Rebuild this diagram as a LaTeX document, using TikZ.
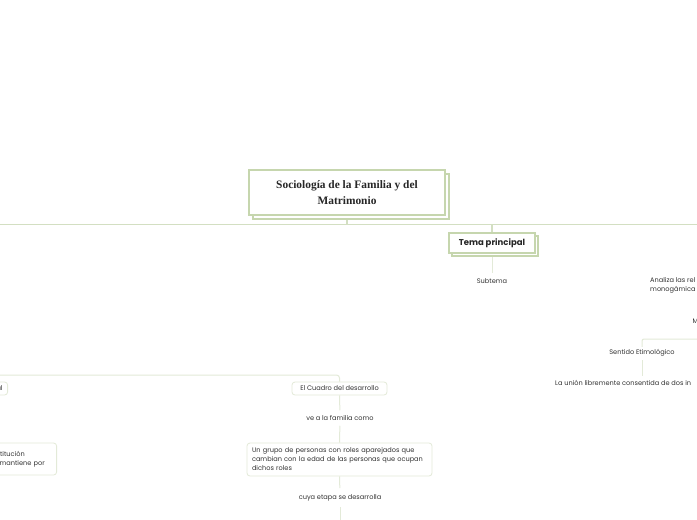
\documentclass[tikz,border=0pt]{standalone}
\usepackage{fontspec}
\setmainfont{Poppins}
\newfontfamily\titlefont{Liberation Serif}
\definecolor{titleline}{HTML}{C6D6AE}
\definecolor{busline}{HTML}{D3DFC2}
\definecolor{paleline}{HTML}{E3EAD8}
\definecolor{txt}{HTML}{333333}
\begin{document}
\begin{tikzpicture}[x=1pt,y=-1pt,
  titlebox/.style={draw=titleline, line width=1.6pt, fill=white, inner sep=0pt},
  temabox/.style={draw=titleline, line width=1.3pt, fill=white, inner sep=0pt},
  subbox/.style={draw=paleline, line width=0.8pt, rounded corners=3pt, fill=white, inner sep=0pt},
  lbl/.style={inner sep=0pt, text=txt, font=\fontsize{6.6}{9}\selectfont},
  bus/.style={draw=busline, line width=1.2pt},
  pale/.style={draw=paleline, line width=1pt}]
\useasboundingbox (0,0) rectangle (697,520);
\fill[white] (0,0) rectangle (697,520);

% buses
\coordinate (busL) at (0,224.5);
\coordinate (busR) at (697,224.5);
\draw[bus] (busL) -- (busR);

% title
\draw[titlebox] (253,174) rectangle (449,219);
\node[titlebox, minimum width=196pt, minimum height=45pt, align=center,
  font=\titlefont\bfseries\fontsize{11.4}{16}\selectfont, text=black!85] (title) at (347,192.5)
  {Sociología de la Familia y del\\Matrimonio};
\draw[bus] ([yshift=-4pt]title.south) -- (title.south |- busL);

% tema principal
\node[temabox, minimum width=86pt, minimum height=20pt] (temash) at (495,246) {};
\node[temabox, minimum width=86pt, minimum height=20pt,
  font=\bfseries\fontsize{8.5}{10}\selectfont, text=black!85] (tema) at (492,243) {Tema principal};
\draw[bus] (tema.north |- busL) -- (tema.north);
\node[lbl] (subtema) at (492,281) {Subtema};
\draw[pale, shorten >=5pt] (temash.south -| tema.south) -- (subtema.north);

% right side
\node[lbl, anchor=west, align=left] (analiza) at (650,285.5) {Analiza las rel\\monogámica};
\node[lbl, anchor=west] (m) at (692.5,321.5) {M};
\coordinate (sbR) at (697,339);
\node[lbl] (sentido) at (642,352.5) {Sentido Etimológico};
\draw[pale, rounded corners=2pt, shorten <=2pt] (sentido.north) -- (sentido.north |- sbR) -- (sbR);
\node[lbl, anchor=west] (union) at (555,383) {La unión libremente consentida de dos in};
\draw[pale, shorten <=4pt, shorten >=4pt] (sentido.south) -- (sentido.south |- union.north);

% left side
\coordinate (lbL) at (0,375);
\node[subbox, minimum width=95pt, minimum height=13pt, lbl] (cuadro) at (339.5,388.5) {El Cuadro del desarrollo};
\draw[pale, rounded corners=3pt] (lbL) -- (cuadro.north |- lbL) -- (cuadro.north);
\node[subbox, minimum width=30pt, minimum height=13pt, lbl, anchor=east, text width=24pt, align=right] (al) at (8,388.5) {al\hspace*{2pt}};

\node[lbl] (ve) at (340,418) {ve a la familia como};
\draw[pale, shorten >=5pt] (cuadro.south) -- (ve.north);
\node[subbox, minimum width=185pt, minimum height=33pt, lbl, text width=175pt, align=left] (grupo) at (339.5,459.5)
  {Un grupo de personas con roles aparejados que\\cambian con la edad de las personas que ocupan\\dichos roles};
\draw[pale, shorten <=5pt] (ve.south) -- (grupo.north);
\node[lbl] (cuya) at (340,497.5) {cuya etapa se desarrolla};
\draw[pale, shorten >=6pt] (grupo.south) -- (cuya.north);
\coordinate (bottom) at (340,520);
\draw[pale, shorten <=6pt] (cuya.south) -- (bottom);

\node[subbox, minimum width=80pt, minimum height=32pt, anchor=east, lbl, text width=70pt, align=left] (inst) at (57,459)
  {\hspace*{15pt}stitución\\\hspace*{18pt}mantiene por\\[6pt]};
\end{tikzpicture}
\end{document}
